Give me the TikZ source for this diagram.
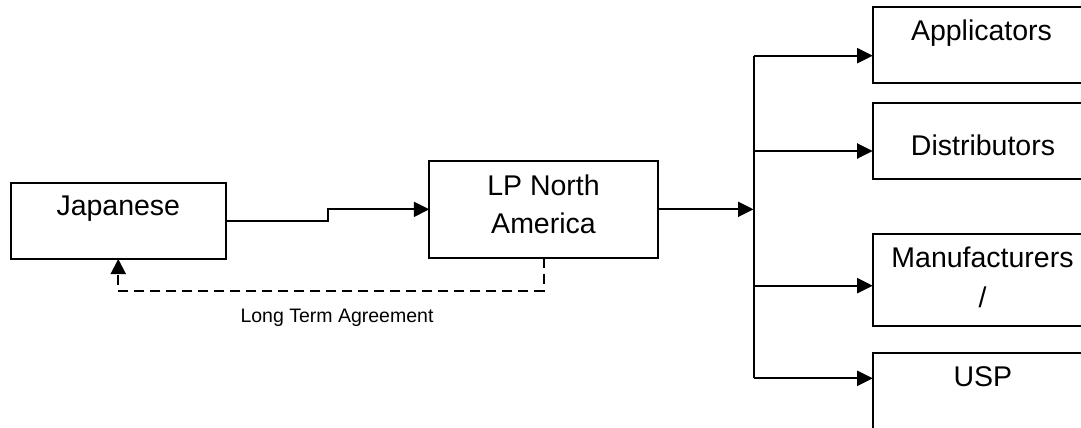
\documentclass[tikz,border=0pt]{standalone}
\usepackage{fontspec}
\setmainfont{Liberation Sans}
\usetikzlibrary{arrows.meta}
\tikzset{
  box/.style={draw=black, line width=2pt, fill=white, inner sep=0pt, outer sep=0pt},
  txt/.style={anchor=base, inner sep=0pt, font=\fontsize{28.5}{34}\selectfont},
  small/.style={anchor=base, inner sep=0pt, font=\fontsize{19.5}{23}\selectfont},
  conn/.style={line width=2pt, -{Triangle[length=15.5pt,width=15pt]}},
  plain/.style={line width=2pt},
  dashconn/.style={line width=2pt, dash pattern=on 10pt off 6pt, -{Triangle[length=15pt,width=15pt]}}
}
\begin{document}
\begin{tikzpicture}[x=1pt,y=-1pt]
\useasboundingbox (0,0) rectangle (1081,428);
\clip (0,0) rectangle (1081,428);
\fill[white] (0,0) rectangle (1081,428);

% boxes
\node[box, minimum width=215.5pt, minimum height=75.7pt] (jp) at (118.25,221.15) {};
\node[box, minimum width=228.4pt, minimum height=96.7pt] (lp) at (543.5,209.35) {};
\node[box, minimum width=217.3pt, minimum height=75.4pt] (app) at (981.35,45) {};
\node[box, minimum width=217.3pt, minimum height=75.7pt] (dist) at (981.35,141.15) {};
\node[box, minimum width=217.3pt, minimum height=91.4pt] (manu) at (981.35,280) {};
\node[box, minimum width=217.3pt, minimum height=87.3pt] (usp) at (981.35,396.35) {};

% texts
\node[txt] (tjp) at (118.3,215.7) {Japanese};
\node[txt] (tlp1) at (543.5,195) {LP North};
\node[txt] (tlp2) at (543.5,233.3) {America};
\node[txt] (tapp) at (981.5,40.7) {Applicators};
\node[txt] (tdist) at (983,155.7) {Distributors};
\node[txt] (tmanu1) at (982.5,267.3) {Manufacturers};
\node[txt] (tmanu2) at (982.5,307.7) {/};
\node[txt] (tusp) at (982.8,386) {USP};
\node[small] (tlta) at (337,322.7) {Long Term Agreement};

% Japanese -> LP
\coordinate (s1) at (328,221.15);
\coordinate (s2) at (328,209.35);
\draw[conn] (jp.east) -- (s1) -- (s2) -- (lp.west);

% LP -> split
\coordinate (split) at (753.5,209.35);
\draw[conn] (lp.east) -- (split);

% vertical distribution line
\coordinate (vtop) at (753.5,55.7);
\coordinate (v2) at (753.5,151);
\coordinate (v3) at (753.5,285.7);
\coordinate (vbot) at (753.5,378.3);
\draw[plain] (vtop) -- (vbot);
\draw[conn] (vtop) -- (app.west |- vtop);
\draw[conn] (v2) -- (dist.west |- v2);
\draw[conn] (v3) -- (manu.west |- v3);
\draw[conn] (vbot) -- (usp.west |- vbot);

% dashed agreement
\coordinate (dl) at (0,290.5);
\draw[dashconn] (lp.south) -- (lp.south |- dl) -- (jp.south |- dl) -- (jp.south);
\end{tikzpicture}
\end{document}
